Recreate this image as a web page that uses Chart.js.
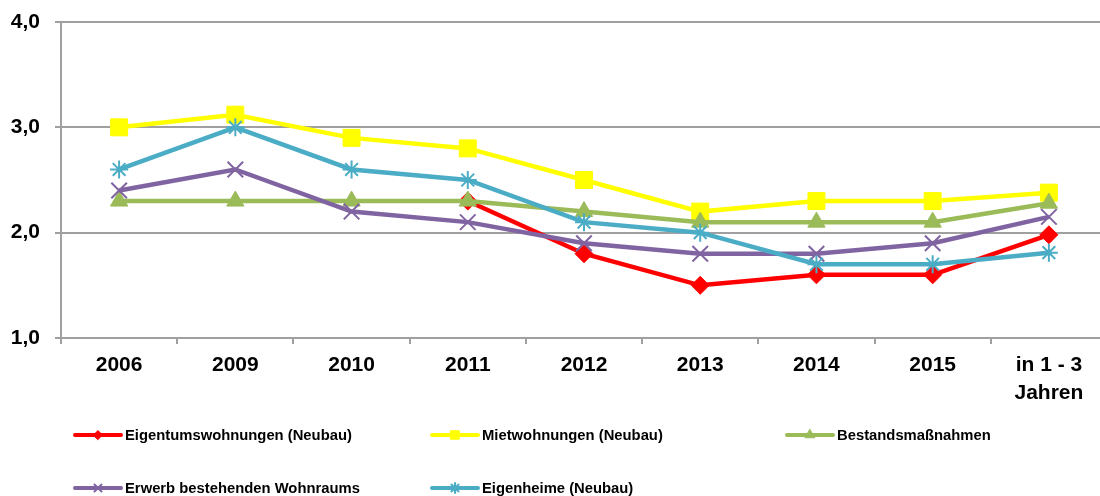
<!DOCTYPE html>
<html>
<head>
<meta charset="utf-8">
<script src="https://cdn.jsdelivr.net/npm/chart.js@4.4.1/dist/chart.umd.min.js"></script>
<style>
    html, body { margin: 0; padding: 0; background: #fff; overflow: hidden; }
    #wrap { width: 1120px; height: 496px; }
</style>
</head>
<body>
<div id="wrap"><canvas id="chart" width="1120" height="496"></canvas></div>
<script>
// Chart data
const categories = ['2006', '2009', '2010', '2011', '2012', '2013', '2014', '2015', ['in 1 - 3', 'Jahren']];
const yTickLabels = ['1,0', '2,0', '3,0', '4,0'];

const eigentumswohnungen = [null, null, null, 2.3, 1.8, 1.5, 1.6, 1.6, 1.98];
const mietwohnungen = [3.0, 3.12, 2.9, 2.8, 2.5, 2.2, 2.3, 2.3, 2.38];
const bestandsmassnahmen = [2.3, 2.3, 2.3, 2.3, 2.2, 2.1, 2.1, 2.1, 2.28];
const erwerbBestand = [2.4, 2.6, 2.2, 2.1, 1.9, 1.8, 1.8, 1.9, 2.15];
const eigenheime = [2.6, 3.0, 2.6, 2.5, 2.1, 2.0, 1.7, 1.7, 1.81];

const FONT = "'Liberation Sans', Arial, sans-serif";
const GRID = '#a0a0a0';

function series(label, data, color, style, radius, borderWidth, order) {
    return {
        label: label,
        data: data,
        borderColor: color,
        backgroundColor: color,
        borderWidth: 4.5,
        tension: 0,
        pointStyle: style,
        pointRadius: radius,
        pointHoverRadius: radius,
        pointBackgroundColor: color,
        pointBorderColor: color,
        pointBorderWidth: borderWidth,
        order: order, // Excel draws later series on top
        spanGaps: false
    };
}

const datasets = [
    series('Eigentumswohnungen (Neubau)', eigentumswohnungen, '#FF0000', 'rectRot', 9, 1, 5),
    series('Mietwohnungen (Neubau)', mietwohnungen, '#FFFF00', 'rect', 12, 1, 4),
    series('Bestandsmaßnahmen', bestandsmassnahmen, '#9BBB59', 'triangle', 10, 1, 3),
    series('Erwerb bestehenden Wohnraums', erwerbBestand, '#8064A2', 'crossRot', 11, 2, 2),
    series('Eigenheime (Neubau)', eigenheime, '#4BACC6', 'star', 9, 2, 1)
];

// Legend laid out in a grid under the plot, like the original
const legendSlots = [
    { x: 75, y: 435 }, { x: 432, y: 435 }, { x: 787, y: 435 },
    { x: 75, y: 488 }, { x: 432, y: 488 }
];
const legendMarkerRadius = [4.5, 6, 5.5, 5, 5];

const gridLegend = {
    id: 'gridLegend',
    afterDraw(chart) {
        const ctx = chart.ctx;
        ctx.save();
        datasets.forEach((ds, i) => {
            const slot = legendSlots[i];
            ctx.strokeStyle = ds.borderColor;
            ctx.lineWidth = 4;
            ctx.lineCap = 'round';
            ctx.beginPath();
            ctx.moveTo(slot.x, slot.y);
            ctx.lineTo(slot.x + 46, slot.y);
            ctx.stroke();

            ctx.fillStyle = ds.borderColor;
            ctx.strokeStyle = ds.borderColor;
            ctx.lineWidth = ds.pointBorderWidth;
            Chart.helpers.drawPoint(ctx, {
                pointStyle: ds.pointStyle,
                radius: legendMarkerRadius[i],
                rotation: 0,
                borderWidth: ds.pointBorderWidth
            }, slot.x + 23, slot.y);

            ctx.fillStyle = '#000';
            ctx.font = 'bold 14.8px ' + FONT;
            ctx.textBaseline = 'middle';
            ctx.textAlign = 'left';
            ctx.fillText(ds.label, slot.x + 50, slot.y + 1);
        });
        ctx.restore();
    }
};

new Chart(document.getElementById('chart'), {
    type: 'line',
    data: { labels: categories, datasets: datasets },
    options: {
        responsive: false,
        animation: false,
        layout: { padding: { top: 22, right: 9, bottom: 96, left: 0 } },
        plugins: {
            legend: { display: false },
            tooltip: { enabled: false }
        },
        scales: {
            y: {
                min: 1,
                max: 4,
                afterFit: (scale) => {
                    scale.width = 61;
                    scale.paddingTop = 0;
                    scale.paddingBottom = 0;
                },
                ticks: {
                    stepSize: 1,
                    padding: 15,
                    color: '#000',
                    font: { family: FONT, size: 21, weight: 'bold' },
                    callback: (value, index) => yTickLabels[index]
                },
                grid: { color: GRID, lineWidth: 2, tickLength: 6, drawTicks: true },
                border: { color: GRID, width: 2 }
            },
            x: {
                offset: true,
                afterFit: (scale) => { scale.height = 62; },
                ticks: {
                    padding: 8,
                    maxRotation: 0,
                    autoSkip: false,
                    color: '#000',
                    font: { family: FONT, size: 21, weight: 'bold', lineHeight: 1.3 }
                },
                grid: { offset: true, drawOnChartArea: false, drawTicks: true, tickLength: 6, color: GRID, lineWidth: 2 },
                border: { color: GRID, width: 2 }
            }
        }
    },
    plugins: [gridLegend]
});
</script>
</body>
</html>
